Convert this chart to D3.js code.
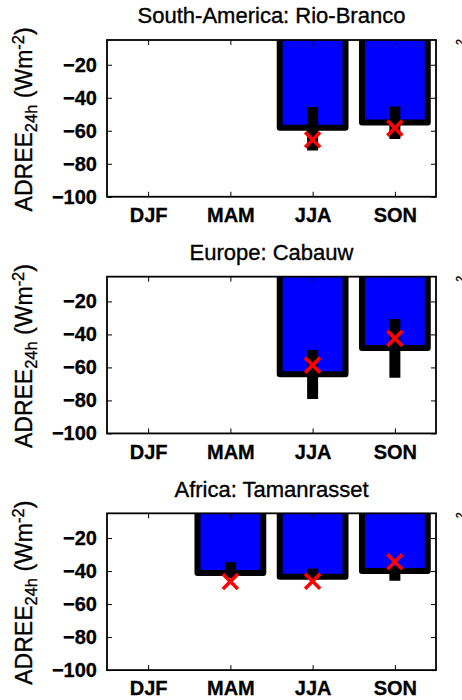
<!DOCTYPE html>
<html>
<head>
<meta charset="utf-8">
<script src="https://cdn.jsdelivr.net/npm/d3@7"></script>
<style>
  html, body { margin: 0; padding: 0; background: #fff; }
  svg { display: block; }
  text { font-family: "Liberation Sans", Arial, Helvetica, sans-serif; fill: #000; }
</style>
</head>
<body>
<svg id="chart" width="462" height="700"></svg>
<script>
// ---- data ----
const seasons = ["DJF", "MAM", "JJA", "SON"];
const titles = ["South-America: Rio-Branco", "Europe: Cabauw", "Africa: Tamanrasset"];
const yTicks = [-100, -80, -60, -40, -20];
const yDomain = [-100, -5];

// ADREE bar values per panel (null = no data)
const barSA = [null, null, -58.2, -55.0];
const barEU = [null, null, -64.1, -48.3];
const barAF = [null, -41.2, -43.5, -40.0];

// error bar lower / upper ends
const errLoSA = [null, null, -71.9, -65.0];
const errHiSA = [null, null, -45.6, -45.3];
const errLoEU = [null, null, -79.2, -66.3];
const errHiEU = [null, null, -49.5, -30.7];
const errLoAF = [null, -44.5, -45.0, -45.9];
const errHiAF = [null, -34.7, -38.4, -37.0];

// red cross values
const crossSA = [null, null, -65.5, -58.4];
const crossEU = [null, null, -58.6, -42.4];
const crossAF = [null, -46.3, -46.1, -34.4];

const panels = [
  { title: titles[0], bars: barSA, lo: errLoSA, hi: errHiSA, cross: crossSA },
  { title: titles[1], bars: barEU, lo: errLoEU, hi: errHiEU, cross: crossEU },
  { title: titles[2], bars: barAF, lo: errLoAF, hi: errHiAF, cross: crossAF }
];

// ---- layout ----
const svg = d3.select("#chart");
const left = 107, right = 436;
const firstTop = 40, panelStep = 236.67, plotH = 156.75;
const barWidth = 0.8;
const font = "'Liberation Sans', Arial, Helvetica, sans-serif";

const x = d3.scaleLinear().domain([0.5, 4.5]).range([left, right]);

function ylabel(g, xBase, yc) {
  const t = g.append("text")
    .attr("transform", `translate(${xBase},${yc}) rotate(-90)`)
    .attr("text-anchor", "middle")
    .attr("stroke", "#000").attr("stroke-width", 0.35)
    .style("font-size", "23px");
  t.append("tspan").text("ADREE");
  t.append("tspan").attr("baseline-shift", "-28%").style("font-size", "16.5px").text("24h");
  t.append("tspan").text(" (Wm");
  t.append("tspan").attr("baseline-shift", "48%").style("font-size", "16.5px").text("-2");
  t.append("tspan").text(")");
}

panels.forEach((p, i) => {
  const top = firstTop + i * panelStep;
  const bottom = top + plotH;
  const y = d3.scaleLinear().domain(yDomain).range([bottom, top]);
  const g = svg.append("g");

  const clipId = "clip" + i;
  svg.append("defs").append("clipPath").attr("id", clipId)
    .append("rect").attr("x", left).attr("y", top).attr("width", right - left).attr("height", plotH);

  const plot = g.append("g").attr("clip-path", `url(#${clipId})`);
  const idx = seasons.map((s, k) => k);

  // bars (from baseline 0, clipped at axes top)
  plot.selectAll("rect.bar").data(idx.filter(k => p.bars[k] !== null)).enter()
    .append("rect").attr("class", "bar")
    .attr("x", k => x(k + 1 - barWidth / 2))
    .attr("width", k => x(k + 1 + barWidth / 2) - x(k + 1 - barWidth / 2))
    .attr("y", k => y(0))
    .attr("height", k => y(p.bars[k]) - y(0))
    .attr("fill", "#0000ff")
    .attr("stroke", "#000")
    .attr("stroke-width", 6)
    .attr("stroke-linejoin", "round");

  // error bars
  plot.selectAll("line.err").data(idx.filter(k => p.lo[k] !== null)).enter()
    .append("line").attr("class", "err")
    .attr("x1", k => x(k + 1)).attr("x2", k => x(k + 1))
    .attr("y1", k => y(p.lo[k])).attr("y2", k => y(p.hi[k]))
    .attr("stroke", "#000").attr("stroke-width", 11);

  // red crosses
  const r = 7.5;
  plot.selectAll("path.cross").data(idx.filter(k => p.cross[k] !== null)).enter()
    .append("path").attr("class", "cross")
    .attr("d", k => {
      const cx = x(k + 1), cy = y(p.cross[k]);
      return `M${cx - r},${cy - r}L${cx + r},${cy + r}M${cx - r},${cy + r}L${cx + r},${cy - r}`;
    })
    .attr("stroke", "#ff0000").attr("stroke-width", 3.6).attr("fill", "none");

  // axes (inward ticks, MATLAB style)
  const axL = g.append("g").attr("transform", `translate(${left},0)`)
    .call(d3.axisLeft(y).tickValues(yTicks).tickSizeInner(-5).tickSizeOuter(0).tickPadding(10));
  const axR = g.append("g").attr("transform", `translate(${right},0)`)
    .call(d3.axisRight(y).tickValues(yTicks).tickSizeInner(-5).tickSizeOuter(0).tickFormat(""));
  const axB = g.append("g").attr("transform", `translate(0,${bottom})`)
    .call(d3.axisBottom(x).tickValues([1, 2, 3, 4]).tickSizeInner(-5).tickSizeOuter(0).tickPadding(11)
      .tickFormat(d => seasons[d - 1]));
  const axT = g.append("g").attr("transform", `translate(0,${top})`)
    .call(d3.axisTop(x).tickValues([1, 2, 3, 4]).tickSizeInner(-5).tickSizeOuter(0).tickFormat(""));
  [axL, axR, axB, axT].forEach(a => {
    a.select(".domain").remove();
    a.selectAll("line").attr("stroke", "#000").attr("stroke-width", 1);
    a.selectAll("text").attr("font-family", font).style("font-size", "20px").style("font-weight", "bold")
      .attr("fill", "#000").attr("stroke", "#000").attr("stroke-width", 0.3);
  });

  g.append("rect").attr("x", left).attr("y", top).attr("width", right - left).attr("height", plotH)
    .attr("fill", "none").attr("stroke", "#000").attr("stroke-width", 1.8);

  // title
  g.append("text").attr("x", (left + right) / 2).attr("y", top - 16.7)
    .attr("text-anchor", "middle").style("font-size", "22px")
    .attr("stroke", "#000").attr("stroke-width", 0.35)
    .text(p.title);

  // y label
  ylabel(g, 32, top + plotH / 2 + 1);

  // small fragment of the neighbouring column's y-label at the right edge
  g.append("text")
    .attr("transform", `translate(463.5,${top + 2}) rotate(-90)`)
    .attr("text-anchor", "middle")
    .attr("stroke", "#000").attr("stroke-width", 0.4)
    .style("font-size", "10px")
    .text("2");
});
</script>
</body>
</html>
